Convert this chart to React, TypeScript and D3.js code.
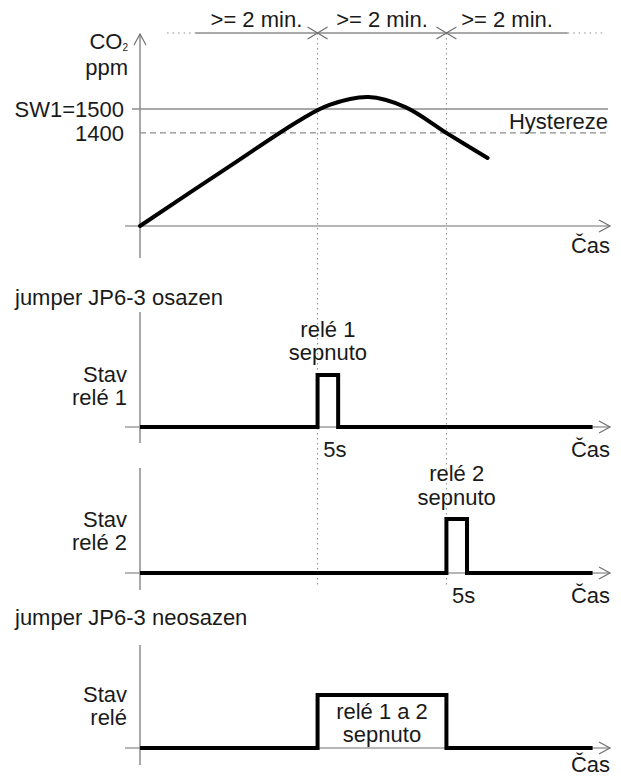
import { RefObject, useEffect, useRef } from "react";
import * as d3 from "d3";

const WIDTH = 621;
const HEIGHT = 778;
const FONT = "'Liberation Sans', Arial, sans-serif";
const TEXT_COLOR = "#1a1a1a";
const AXIS_COLOR = "#6f6f6f";
const GUIDE_COLOR = "#8c8c8c";
const FS = 22;

// CO2 course (time in s, ppm)
const co2Time = [0, 83, 148, 175, 211, 245, 284, 321];
const co2Ppm = [1010, 1261, 1454, 1517, 1550, 1508, 1397, 1295];

const limitLabels = ["SW1=1500", "1400"];
const limitValues = [1500, 1400];

// switching moments and the ">= 2 min." spans on the top ruler
const markTimes = [164, 283];
const spanStarts = [51, 164, 283];
const spanEnds = [164, 283, 395];
const spanLabel = ">= 2 min.";
const rulerLead = [25, 51];
const rulerTail = [395, 429];

// relay states (0 = off, 1 = on)
const relay1Time = [0, 164, 164, 183, 183, 418];
const relay1State = [0, 0, 1, 1, 0, 0];
const relay2Time = [0, 283, 283, 302, 302, 418];
const relay2State = [0, 0, 1, 1, 0, 0];
const relayBothTime = [0, 164, 164, 283, 283, 418];
const relayBothState = [0, 0, 1, 1, 0, 0];

const x = d3.scaleLinear().domain([0, 435]).range([140, 611]);
const yCo2 = d3.scaleLinear().domain([1010, 1500]).range([226, 109]);

const relayPanels = [
  {
    time: relay1Time,
    state: relay1State,
    base: 427,
    top: 375,
    axisTop: 312,
    axisBottom: 443,
    stav: ["Stav", "relé 1"],
    stavY: [382, 405],
    label: ["relé 1", "sepnuto"],
    labelY: [337, 360],
    pulse: [164, 183],
    showFive: true,
    casY: 457,
  },
  {
    time: relay2Time,
    state: relay2State,
    base: 573,
    top: 519,
    axisTop: 468,
    axisBottom: 590,
    stav: ["Stav", "relé 2"],
    stavY: [527, 550],
    label: ["relé 2", "sepnuto"],
    labelY: [481, 505],
    pulse: [283, 302],
    showFive: true,
    casY: 603,
  },
  {
    time: relayBothTime,
    state: relayBothState,
    base: 748,
    top: 695,
    axisTop: 645,
    axisBottom: 765,
    stav: ["Stav", "relé"],
    stavY: [702, 725],
    label: ["relé 1 a 2", "sepnuto"],
    labelY: [719, 742],
    pulse: [164, 283],
    showFive: false,
    casY: 772,
  },
];

export default function App() {
  const svgRef: RefObject<SVGSVGElement> = useRef(null);

  useEffect(() => {
    const svg = d3.select(svgRef.current);
    svg.selectAll("*").remove();
    const g = svg.append("g").attr("font-family", FONT).attr("fill", TEXT_COLOR);

    const text = (tx: number, ty: number, s: string, anchor = "start", size = FS) =>
      g
        .append("text")
        .attr("x", tx)
        .attr("y", ty)
        .attr("text-anchor", anchor)
        .attr("font-size", size)
        .text(s);

    const line = (x1: number, y1: number, x2: number, y2: number, color = AXIS_COLOR, w = 1.2, dash: string | null = null) =>
      g
        .append("line")
        .attr("x1", x1)
        .attr("y1", y1)
        .attr("x2", x2)
        .attr("y2", y2)
        .attr("stroke", color)
        .attr("stroke-width", w)
        .attr("stroke-dasharray", dash);

    // open arrow head: tip at (px,py), dx/dy direction of the arrow
    const chevron = (px: number, py: number, dx: number, dy: number, len = 11, half = 6) => {
      const nx = -dy;
      const ny = dx;
      g.append("path")
        .attr(
          "d",
          `M${px - dx * len + nx * half},${py - dy * len + ny * half}L${px},${py}L${px - dx * len - nx * half},${py - dy * len - ny * half}`
        )
        .attr("fill", "none")
        .attr("stroke", AXIS_COLOR)
        .attr("stroke-width", 1.2);
    };

    // dotted verticals at switching moments
    markTimes.forEach((t) => line(x(t), 33, x(t), 585, GUIDE_COLOR, 1, "1.5,3.5"));

    // top ruler
    const rulerY = 33;
    line(x(rulerLead[0]), rulerY, x(rulerLead[1]), rulerY, GUIDE_COLOR, 1.2, "1.5,4");
    line(x(rulerTail[0]), rulerY, x(rulerTail[1]), rulerY, GUIDE_COLOR, 1.2, "1.5,4");
    spanStarts.forEach((s, i) => {
      line(x(s), rulerY, x(spanEnds[i]), rulerY, GUIDE_COLOR, 1.5);
      text(x((s + spanEnds[i]) / 2), 27, spanLabel, "middle");
    });
    markTimes.forEach((t) => {
      chevron(x(t), rulerY, 1, 0, 10, 6);
      chevron(x(t), rulerY, -1, 0, 10, 6);
    });

    // CO2 panel
    line(x(0), 258, x(0), 34);
    chevron(x(0), 34, 0, -1);
    line(125, yCo2(1010), 610, yCo2(1010));
    chevron(610, yCo2(1010), 1, 0);

    line(132, yCo2(limitValues[0]), 608, yCo2(limitValues[0]), GUIDE_COLOR, 1.6);
    line(x(0), yCo2(limitValues[1]), 608, yCo2(limitValues[1]), GUIDE_COLOR, 1.3, "6,4");
    text(124, yCo2(limitValues[0]) + 8, limitLabels[0], "end");
    text(124, yCo2(limitValues[1]) + 8, limitLabels[1], "end");
    text(608, 129, "Hystereze", "end");

    const co2Label = text(128, 49, "CO", "end");
    co2Label.append("tspan").attr("font-size", 10).attr("dy", 2).text("2");
    text(128, 75, "ppm", "end");
    text(610, 253, "Čas", "end");

    const co2Line = d3
      .line<number>()
      .x((_, i) => x(co2Time[i]))
      .y((d) => yCo2(d))
      .curve(d3.curveCatmullRom.alpha(0.5));
    g.append("path")
      .attr("d", co2Line(co2Ppm))
      .attr("fill", "none")
      .attr("stroke", "#000")
      .attr("stroke-width", 4)
      .attr("stroke-linecap", "round");

    // section headings
    text(15, 305, "jumper JP6-3 osazen");
    text(15, 625, "jumper JP6-3 neosazen");

    // relay panels
    relayPanels.forEach((p) => {
      const y = d3.scaleLinear().domain([0, 1]).range([p.base, p.top]);
      line(x(0), p.axisTop, x(0), p.axisBottom);
      line(125, p.base, 610, p.base);
      chevron(610, p.base, 1, 0);

      const step = d3
        .line<number>()
        .x((_, i) => x(p.time[i]))
        .y((d) => y(d));
      g.append("path")
        .attr("d", step(p.state))
        .attr("fill", "none")
        .attr("stroke", "#000")
        .attr("stroke-width", 4)
        .attr("stroke-linejoin", "miter");

      text(127, p.stavY[0], p.stav[0], "end");
      text(127, p.stavY[1], p.stav[1], "end");
      const mid = x((p.pulse[0] + p.pulse[1]) / 2);
      text(mid, p.labelY[0], p.label[0], "middle");
      text(mid, p.labelY[1], p.label[1], "middle");
      if (p.showFive) text(mid + 7, p.casY, "5s", "middle");
      text(610, p.casY, "Čas", "end");
    });
  }, []);

  return (
    <svg
      ref={svgRef}
      width={WIDTH}
      height={HEIGHT}
      viewBox={`0 0 ${WIDTH} ${HEIGHT}`}
      style={{ position: "absolute", left: 0, top: 0, background: "#fff" }}
    />
  );
}
